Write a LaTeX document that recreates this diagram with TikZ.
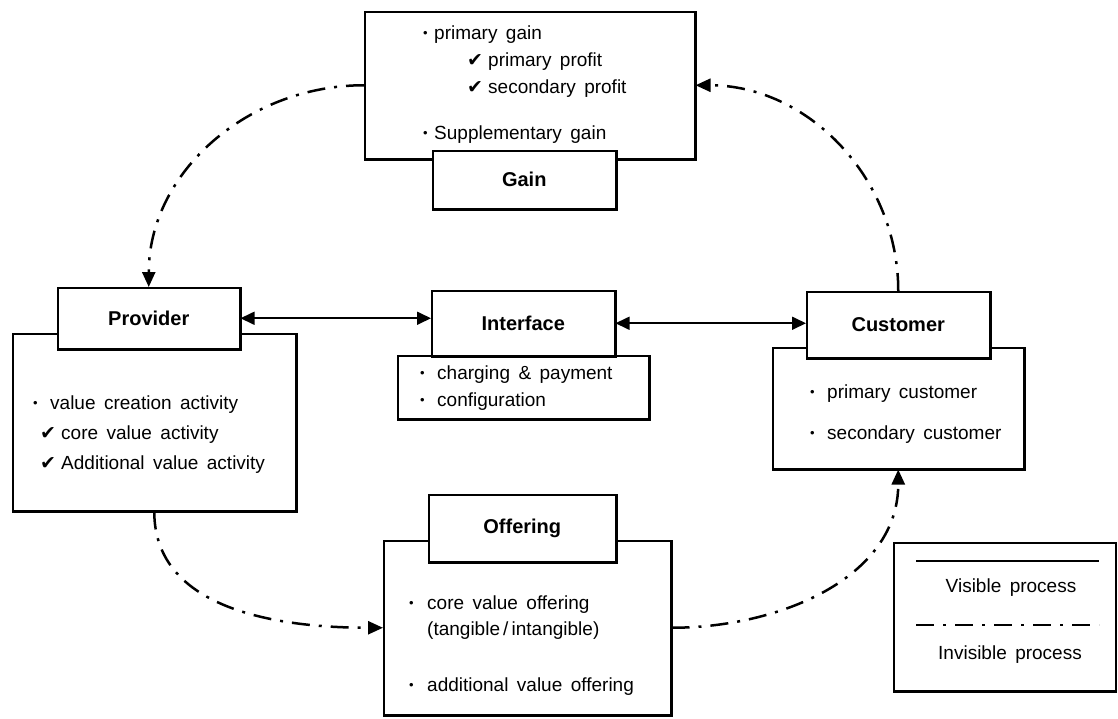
\documentclass[tikz,border=0pt]{standalone}
\usepackage{fontspec}
\setmainfont{Liberation Sans}[WordSpace=1.6]
\newfontfamily\symfont{DejaVu Sans}
\usetikzlibrary{arrows.meta}
\newcommand\mybul[1]{\makebox[#1][l]{\raisebox{1.5pt}{\fontsize{13}{13}\selectfont •}}}
\newcommand\mychk{\makebox[21pt][l]{\symfont\fontsize{19}{19}\selectfont ✔}}
\begin{document}
\begin{tikzpicture}[x=1pt,y=-1pt,
  box/.style={draw, line width=1.5pt, inner sep=0pt, anchor=north west},
  lbl/.style={box, fill=white, font=\fontsize{20}{22}\selectfont\bfseries},
  edge/.style={line width=2.6pt},
  txt/.style={anchor=base west, inner sep=0pt, font=\fontsize{19}{22}\selectfont},
  ctxt/.style={anchor=center, inner sep=0pt, font=\fontsize{19}{22}\selectfont},
  vis/.style={line width=1.7pt, {Triangle[length=14pt,width=13pt]}-{Triangle[length=14pt,width=13pt]}},
  invis/.style={line width=2.5pt, dash pattern=on 18pt off 9pt on 3pt off 9pt, -{Triangle[length=15pt,width=13pt]}},
]
\useasboundingbox (0,0) rectangle (1118,718);
% content boxes
\node[box, minimum width=330pt, minimum height=147pt] (gainc) at (364,11) {};
\node[box, minimum width=283pt, minimum height=177pt] (provc) at (12,333) {};
\node[box, minimum width=251pt, minimum height=63pt] (intfc) at (397,355) {};
\node[box, minimum width=251pt, minimum height=121pt] (custc) at (772,347) {};
\node[box, minimum width=287pt, minimum height=174pt] (offc) at (383,540) {};
\foreach \b in {gainc,provc,intfc,custc,offc}
  \draw[edge] (\b.north east) -- (\b.south east) -- (\b.south west);
% label boxes
\node[lbl, minimum width=183pt, minimum height=58pt] (gain) at (432,150) {Gain};
\node[lbl, minimum width=182pt, minimum height=61pt] (prov) at (57,287) {Provider};
\node[lbl, minimum width=183pt, minimum height=65pt] (intf) at (431,290) {Interface};
\node[lbl, minimum width=183pt, minimum height=66pt] (cust) at (806,291) {Customer};
\node[lbl, minimum width=187pt, minimum height=67pt] (off) at (428,494) {Offering};
\foreach \b in {gain,prov,intf,cust,off}
  \draw[edge] (\b.north east) -- (\b.south east) -- (\b.south west);
% texts
\node[txt] (g1) at (423,39) {\mybul{11pt}primary gain};
\node[txt] (g2) at (467,66) {\mychk primary profit};
\node[txt] (g3) at (467,93) {\mychk secondary profit};
\node[txt] (g4) at (423,139) {\mybul{11pt}Supplementary gain};
\node[txt] (p1) at (33,409) {\mybul{17pt}value creation activity};
\node[txt] (p2) at (40,439) {\mychk core value activity};
\node[txt] (p3) at (40,469) {\mychk Additional value activity};
\node[txt] (i1) at (420,379) {\mybul{17pt}charging \& payment};
\node[txt] (i2) at (420,406) {\mybul{17pt}configuration};
\node[txt] (c1) at (810,398) {\mybul{17pt}primary customer};
\node[txt] (c2) at (810,439) {\mybul{17pt}secondary customer};
\node[txt] (o1) at (409,609) {\mybul{18pt}core value offering};
\node[txt] (o2) at (427,635) {(tangible\,/\,intangible)};
\node[txt] (o3) at (409,691) {\mybul{18pt}additional value offering};
% visible connectors
\draw[vis] (prov.east) -- (prov.east -| intf.west);
\draw[vis] (intf.east) -- (intf.east -| cust.west);
% invisible connectors
\draw[invis] (gainc.west) to[out=180,in=90] (prov.north);
\draw[invis] (cust.north) to[out=90,in=0] (gainc.east);
\draw[invis] (provc.south) to[out=-90,in=180] (offc.west);
\draw[invis] (offc.east) to[out=0,in=-90] (custc.south);
% legend
\node[box, minimum width=222pt, minimum height=148pt] (leg) at (893,542) {};
\draw[edge] (leg.south east) -- (leg.south west);
\coordinate (la) at (916,561);
\coordinate (lb) at (1099,561);
\coordinate (lc) at (916,625);
\coordinate (ld) at (1099,625);
\draw[line width=2.5pt] (la) -- (lb);
\draw[line width=2.5pt, dash pattern=on 18pt off 9pt on 3pt off 9pt] (lc) -- (ld);
\node[ctxt] (l1) at (1011,588) {Visible process};
\node[ctxt] (l2) at (1010,655) {Invisible process};
\end{tikzpicture}
\end{document}
